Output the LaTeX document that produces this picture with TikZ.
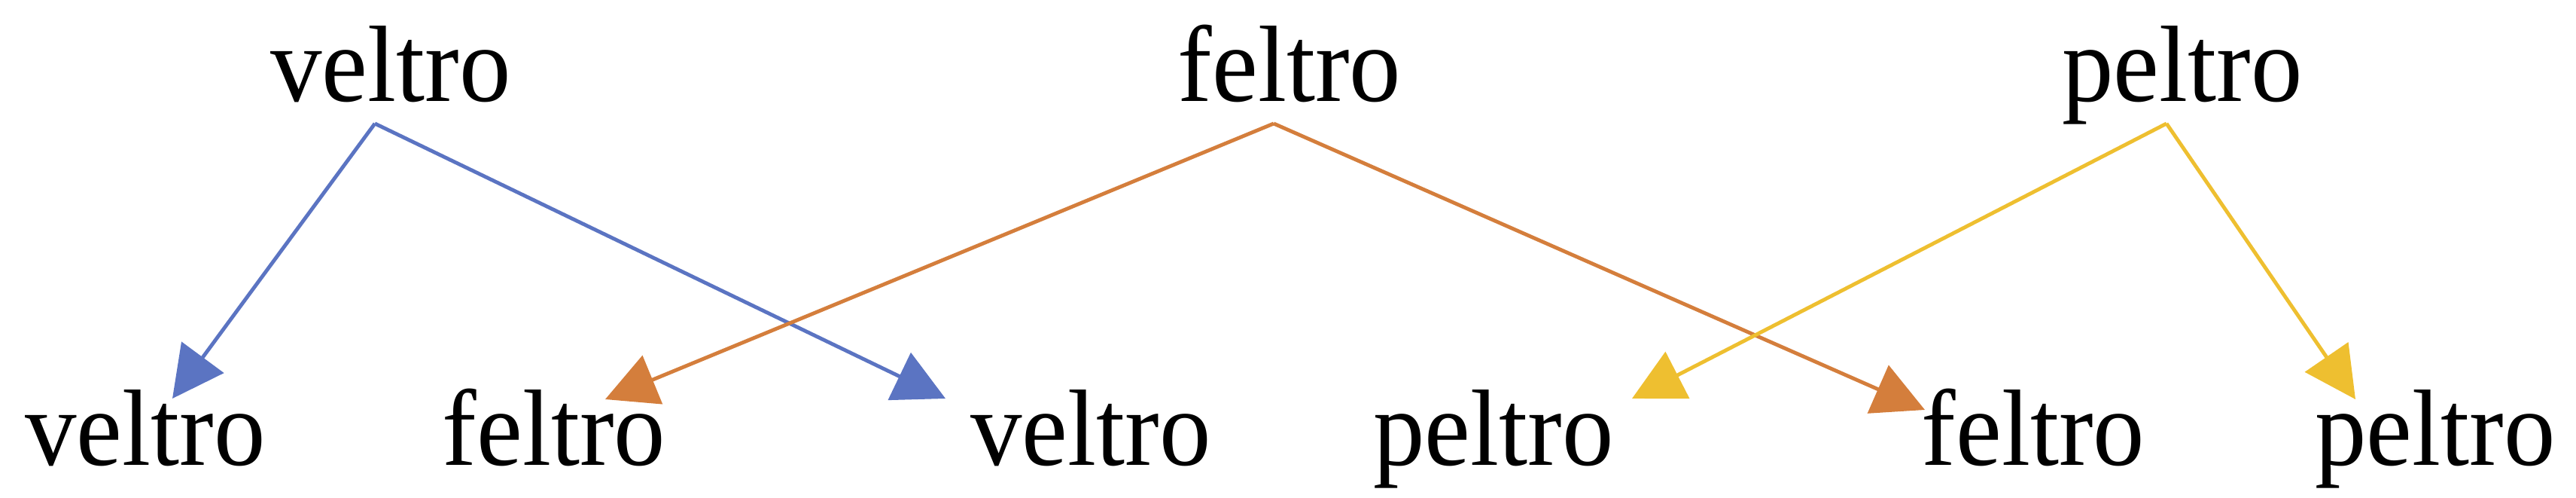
\documentclass[tikz,border=0pt]{standalone}
\usepackage{fontspec}
\setmainfont{Liberation Serif}[FakeStretch=0.95]
\usetikzlibrary{arrows.meta}

\definecolor{vblue}{HTML}{5B74C2}
\definecolor{forange}{HTML}{D47E3C}
\definecolor{pyellow}{HTML}{EEBF30}

\begin{document}
\begin{tikzpicture}[
  word/.style={anchor=base, inner sep=0pt, font=\fontsize{41}{49}\selectfont},
  link/.style={line width=1.4pt, -{Triangle[length=0.68cm, width=0.69cm]}}
]
  \useasboundingbox (0,0) rectangle (34.22,6.61);
  \newcommand{\ytop}{5.26}
  \newcommand{\ybot}{0.43}

  \foreach \x/\w in {5.19/veltro, 17.13/feltro, 28.99/peltro} {
    \node[word] (t-\w) at (\x,\ytop) {\w};
    \coordinate (o-\w) at ([xshift=-0.21cm, yshift=-0.29cm]t-\w.base);
  }

  \foreach \i/\x/\w in {1/1.93/veltro, 2/7.36/feltro, 3/14.49/veltro,
                        4/19.84/peltro, 5/27.01/feltro, 6/32.35/peltro} {
    \node[word] (b-\i) at (\x,\ybot) {\w};
  }

  \foreach \from/\to/\dx/\dy/\col in {veltro/1/0.36/0.89/vblue, veltro/3/-1.93/0.89/vblue,
                                     feltro/2/0.68/0.88/forange, feltro/5/-1.44/0.74/forange,
                                     peltro/4/1.84/0.89/pyellow, peltro/6/-1.06/0.88/pyellow} {
    \draw[link, draw=\col] (o-\from) -- ([shift={(\dx,\dy)}]b-\to.base);
  }

\end{tikzpicture}
\end{document}
